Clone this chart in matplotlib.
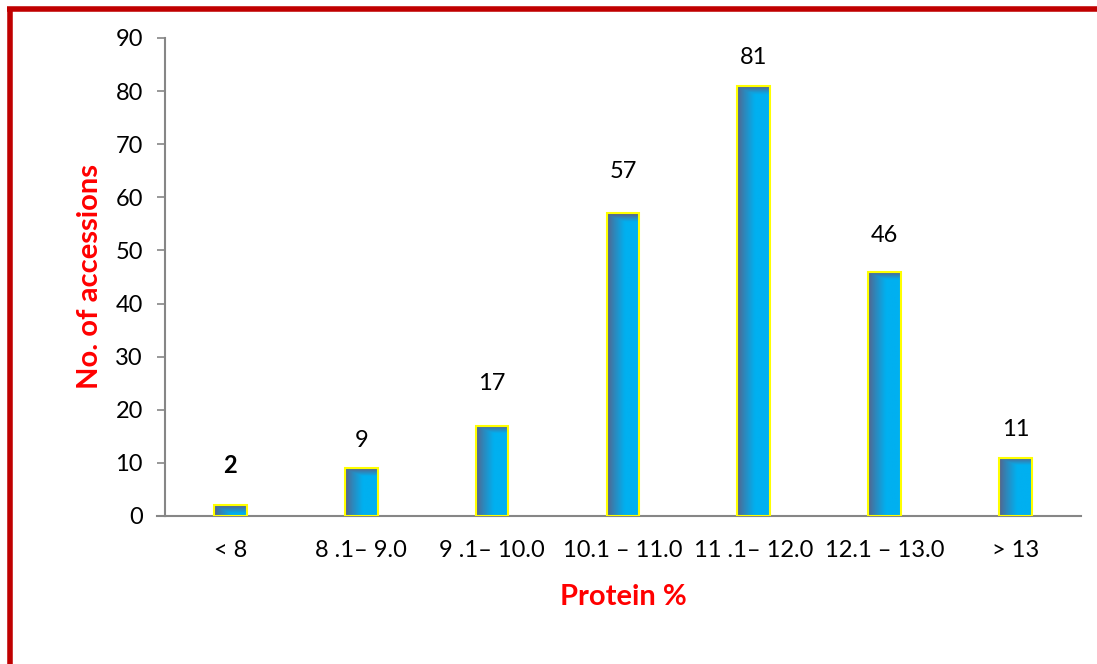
import matplotlib
matplotlib.use('Agg')
import matplotlib.pyplot as plt
import numpy as np
from matplotlib.colors import to_rgb
from matplotlib.lines import Line2D

# Protein content classes and number of accessions in each
categories = ['< 8', '8 .1\u2013 9.0', '9 .1\u2013 10.0', '10.1 \u2013 11.0',
              '11 .1\u2013 12.0', '12.1 \u2013 13.0', '> 13']
counts = [2, 9, 17, 57, 81, 46, 11]
bold_labels = [True, False, False, False, False, False, False]

plt.rcParams['font.family'] = ['Lato', 'DejaVu Sans']

FRAME_RED = '#c00000'
LABEL_RED = '#ff0000'
AXIS_GREY = '#868686'

# how far above each bar its value label sits (data units)
label_gap = [7.6, 5.3, 8.0, 7.8, 5.4, 6.9, 5.2]

fig = plt.figure(figsize=(10.97, 6.64), dpi=100)
ax = fig.add_axes([0.1504, 0.2229, 0.8350, 0.7199])

x = np.arange(len(categories))
width = 0.25

# gradient fill: slate on the left/top edge fading into bright cyan
dark = np.array(to_rgb('#5b5f86'))
light = np.array(to_rgb('#00b0f0'))
gx = np.linspace(0, 1, 60)
ramp_x = np.clip(gx / 0.55, 0, 1) ** 0.8

for xi, val in zip(x, counts):
    bar = ax.bar(xi, val, width=width, color='none', edgecolor='#ffff00',
                 linewidth=1.5, zorder=3)[0]
    gy = np.linspace(0, 1, 200)
    # row 0 is the top of the bar; darken roughly the top 1.5 units
    top_d = gy * val
    ramp_y = np.clip(top_d / 1.5, 0, 1)
    t = np.minimum(ramp_x[None, :], ramp_y[:, None])
    img = dark[None, None, :] * (1 - t[..., None]) + light[None, None, :] * t[..., None]
    im = ax.imshow(img, extent=(xi - width / 2, xi + width / 2, 0, val),
                   origin='upper', aspect='auto', zorder=2, interpolation='bilinear')
    im.set_clip_path(bar)

for xi, val, b, gap in zip(x, counts, bold_labels, label_gap):
    ax.text(xi, val + gap, str(val), ha='center', va='center', fontsize=17,
            fontweight='bold' if b else 'normal', color='black')

ax.set_xlim(-0.5, len(categories) - 0.5)
ax.set_ylim(0, 90)
ax.set_yticks(range(0, 91, 10))
ax.set_xticks(x)
ax.set_xticklabels(categories, fontsize=17)
ax.tick_params(axis='y', labelsize=17, length=6, width=1.2, color=AXIS_GREY, pad=10)
ax.tick_params(axis='x', length=0, pad=17)

for side in ['top', 'right']:
    ax.spines[side].set_visible(False)
for side in ['left', 'bottom']:
    ax.spines[side].set_color(AXIS_GREY)
    ax.spines[side].set_linewidth(1.5)

# category axis runs a tick-length past the value axis
ax.add_line(Line2D([-0.009, 0], [0, 0], transform=ax.transAxes, color=AXIS_GREY,
                   linewidth=1.5, clip_on=False))

ax.set_ylabel('No. of accessions', color=LABEL_RED, fontsize=21, fontweight='bold', labelpad=9)
ax.set_xlabel('Protein %', color=LABEL_RED, fontsize=21, fontweight='bold', labelpad=17)

# red frame along the top and left of the slide
fig.add_artist(Line2D([0.0064, 1.0], [0.9865, 0.9865], transform=fig.transFigure,
                      color=FRAME_RED, linewidth=4, solid_capstyle='butt'))
fig.add_artist(Line2D([0.0087, 0.0087], [0.0, 0.9895], transform=fig.transFigure,
                      color=FRAME_RED, linewidth=4, solid_capstyle='butt'))

fig.savefig('out.png', dpi=100)
plt.close(fig)
